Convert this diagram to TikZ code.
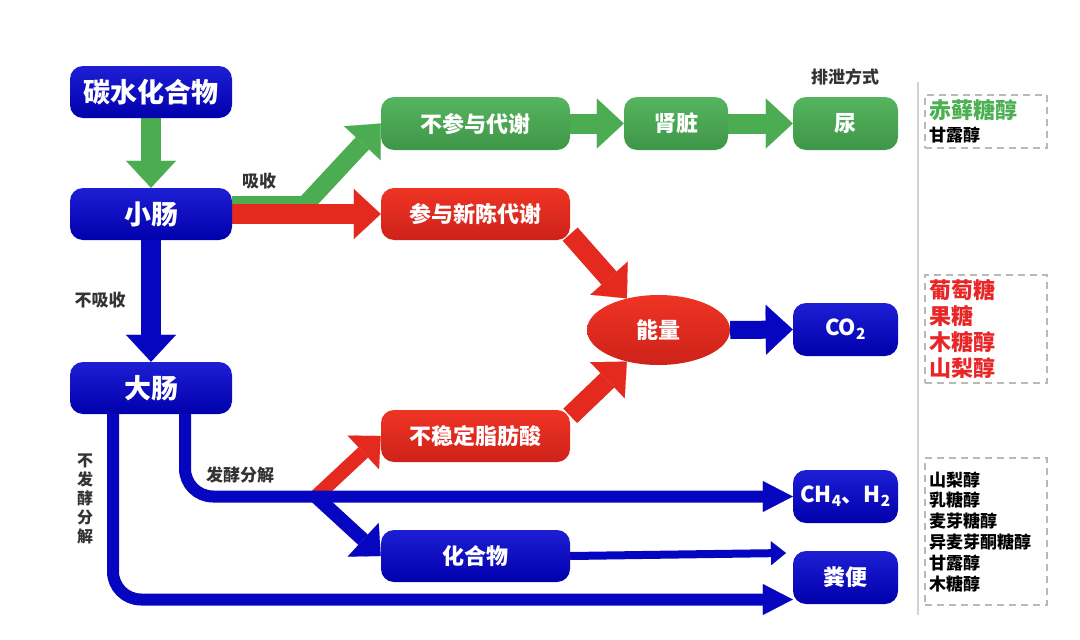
\documentclass[tikz,border=0pt]{standalone}
\usepackage{fontspec}
\setmainfont{Noto Sans CJK SC}
\usetikzlibrary{shapes.geometric,arrows.meta,backgrounds}

\definecolor{blueT}{RGB}{30,30,212}
\definecolor{blueB}{RGB}{0,0,172}
\definecolor{greenT}{RGB}{86,180,94}
\definecolor{greenB}{RGB}{62,150,72}
\definecolor{redT}{RGB}{238,52,36}
\definecolor{redB}{RGB}{206,34,26}
\definecolor{blueA}{RGB}{6,6,192}
\definecolor{greenA}{RGB}{76,172,82}
\definecolor{redA}{RGB}{228,42,30}
\definecolor{txtred}{RGB}{232,38,40}
\definecolor{txtgreen}{RGB}{76,176,82}

\begin{document}
\begin{tikzpicture}[x=1pt, y=-1pt,
  box/.style={rectangle, rounded corners=13pt, text=white, inner sep=0pt,
    font=\bfseries\fontsize{22}{26}\selectfont, minimum height=53pt},
  bluebox/.style={box, top color=blueT, bottom color=blueB},
  greenbox/.style={box, top color=greenT, bottom color=greenB},
  redbox/.style={box, top color=redT, bottom color=redB},
  leftbox/.style={bluebox, minimum width=162pt, minimum height=52pt, font=\bfseries\fontsize{27}{30}\selectfont},
  bigarrow/.style={line width=20pt, -{Triangle[width=50pt, length=27pt, line width=0.1pt]}},
  midarrow/.style={line width=12pt, -{Triangle[width=31pt, length=30pt, line width=0.1pt]}},
  branch/.style={line width=14pt, -{Triangle[width=46pt, length=24pt, line width=0.1pt]}},
  thinarrow/.style={line width=8pt, -{Triangle[width=24pt, length=15pt, line width=0.1pt]}},
  note/.style={font=\bfseries\fontsize{17}{19}\selectfont, text=black!80},
  listbox/.style={draw=gray!55, line width=1.5pt, dash pattern=on 7pt off 5pt,
    minimum width=122pt, inner sep=0pt, text width=114pt, align=left},
]
\useasboundingbox (0,0) rectangle (1080,640);

% === LEFT COLUMN ===
\node[leftbox] (ts) at (151,92) {碳水化合物};
\node[leftbox] (xc) at (151,214) {小肠};
\node[leftbox] (dc) at (151,388) {大肠};

% === MIDDLE ===
\node[greenbox, minimum width=189pt] (bcy) at (475.5,123.5) {不参与代谢};
\node[greenbox, minimum width=104pt] (sz) at (676,123.5) {肾脏};
\node[redbox, minimum width=189pt, minimum height=52pt] (cy) at (475.5,214) {参与新陈代谢};
\node[ellipse, top color=redT, bottom color=redB, text=white, inner sep=0pt,
  font=\bfseries\fontsize{22}{26}\selectfont, minimum width=143pt, minimum height=70pt] (nl) at (658.5,330) {能量};
\node[redbox, minimum width=189pt, minimum height=52pt] (bw) at (475.5,436) {不稳定脂肪酸};
\node[bluebox, minimum width=189pt, minimum height=52pt] (hhw) at (475.5,556) {化合物};

% === RIGHT COLUMN ===
\node[greenbox, minimum width=105pt] (ni) at (845.5,123.5) {尿};
\node[bluebox, minimum width=105pt] (co) at (845.5,329.5) {CO\textsubscript{2}};
\node[bluebox, minimum width=105pt, font=\bfseries\fontsize{22}{26}\selectfont] (ch) at (845.5,496.5) {CH\textsubscript{4}、H\textsubscript{2}};
\node[bluebox, minimum width=105pt] (fb) at (845.5,577.5) {粪便};

% labels
\node[note] (pxfs) at (845,77) {排泄方式};
\node[note] (xs) at (259,181) {吸收};
\node[note] (bxs) at (100,300) {不吸收};
\node[note] (fjfj) at (240,475) {发酵分解};
\node[note, align=center, font=\bfseries\fontsize{16}{19}\selectfont] (bfj) at (85,499) {不\\发\\酵\\分\\解};

\coordinate (fj) at (316,496.5);
\coordinate (hhwend) at (786,553);

% === ARROWS ===
\begin{scope}[on background layer]
  \draw[bigarrow, greenA] (ts.south) -- (xc.north);
  \draw[bigarrow, blueA] (xc.south) -- (dc.north);
  \draw[bigarrow, greenA, line width=18pt] ([yshift=9pt]xc.east) -- (305,205) -- (bcy.west);
  \draw[bigarrow, redA] (xc.east) -- (cy.west);
  \draw[bigarrow, greenA] (bcy.east) -- (sz.west);
  \draw[bigarrow, greenA] (sz.east) -- (ni.west);
  \draw[bigarrow, redA] (cy.-12) -- (nl.135);
  \draw[bigarrow, redA] (bw.12) -- (nl.-135);
  \draw[bigarrow, blueA, line width=18pt] (nl.east) -- (co.west);
  \draw[branch, redA] (fj) -- (bw.west);
  \draw[branch, blueA] (fj) -- (hhw.west);
  \draw[midarrow, blueA, rounded corners=28pt] ([xshift=-38pt]dc.south) |- ([yshift=-22pt]fb.west);
  \draw[midarrow, blueA, rounded corners=28pt] ([xshift=34pt]dc.south) |- (ch.west);
  \draw[thinarrow, blueA] (hhw.east) -- (hhwend);
\end{scope}

% === SUGAR LISTS ===
\draw[gray!35, line width=1.5pt] (918,82) -- (918,615);
\node[listbox, minimum height=53pt, font=\bfseries\fontsize{17}{23}\selectfont] (lst1) at (986,121.5)
  {{\color{txtgreen}\fontsize{22}{23}\selectfont 赤藓糖醇}\\
   甘露醇};
\node[listbox, minimum height=108pt, text=txtred, font=\bfseries\fontsize{22}{26}\selectfont] (lst2) at (986,329)
  {葡萄糖\\果糖\\木糖醇\\山梨醇};
\node[listbox, minimum height=147pt, font=\bfseries\fontsize{17}{20.8}\selectfont] (lst3) at (986,531.5)
  {山梨醇\\乳糖醇\\麦芽糖醇\\异麦芽酮糖醇\\甘露醇\\木糖醇};
\end{tikzpicture}
\end{document}
